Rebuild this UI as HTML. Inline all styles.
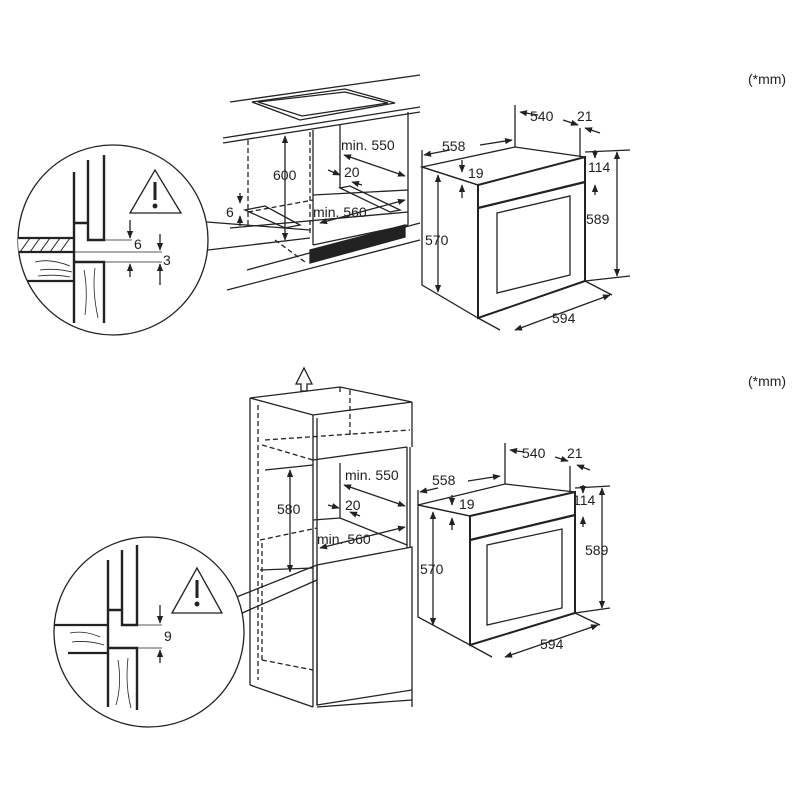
<!DOCTYPE html>
<html><head><style>
html,body{margin:0;padding:0;background:#fff}
svg{display:block}
text{font-family:"Liberation Sans",Arial,sans-serif;font-size:14px;fill:#222}
</style></head><body>
<svg width="800" height="800" viewBox="0 0 800 800" xmlns="http://www.w3.org/2000/svg">
<defs>
<marker id="a" viewBox="0 0 10 10" refX="9" refY="5" markerWidth="6" markerHeight="6" orient="auto-start-reverse"><path d="M0,1 L10,5 L0,9z" fill="#222"/></marker>
<clipPath id="c1"><circle cx="113" cy="240" r="95"/></clipPath>
<clipPath id="c2"><circle cx="149" cy="632" r="95"/></clipPath>
</defs>
<g stroke="#222" fill="none" stroke-width="1.3">
<!-- ===== TOP ===== -->
<line x1="230" y1="102" x2="420" y2="75"/>
<line x1="223" y1="138" x2="420" y2="107"/>
<line x1="223" y1="143" x2="420" y2="112"/>
<polygon points="252,102 345,89 395,103 300,120"/>
<polygon points="258,102 345,92 388,103 302,116"/>
<line x1="313" y1="130" x2="313" y2="245"/>
<line x1="408" y1="112" x2="408" y2="225"/>
<line x1="340" y1="125" x2="340" y2="188"/>
<line x1="248" y1="140" x2="248" y2="225" stroke-dasharray="5,3"/>
<line x1="310" y1="132" x2="310" y2="235" stroke-dasharray="5,3"/>
<line x1="248" y1="212" x2="313" y2="200" stroke-dasharray="5,3"/>
<polygon points="245,210 265,206 300,225 285,228"/>
<polygon points="340,188 350,186 400,210 390,212"/>
<line x1="313" y1="195" x2="408" y2="190"/>
<line x1="230" y1="228" x2="408" y2="212"/>
<line x1="313" y1="245" x2="408" y2="225"/>
<line x1="247" y1="270" x2="420" y2="223"/>
<line x1="227" y1="290" x2="420" y2="240"/>
<line x1="275" y1="240" x2="305" y2="262" stroke-dasharray="5,3"/>
<polygon points="310,250 405,225 405,237 310,263" fill="#222"/>
<line x1="285" y1="136" x2="285" y2="240" marker-start="url(#a)" marker-end="url(#a)"/>
<line x1="240" y1="193" x2="240" y2="203" marker-end="url(#a)"/>
<line x1="240" y1="226" x2="240" y2="216" marker-end="url(#a)"/>
<line x1="344" y1="155" x2="405" y2="176" marker-start="url(#a)" marker-end="url(#a)"/>
<line x1="328" y1="170" x2="340" y2="175" marker-end="url(#a)"/>
<line x1="352" y1="182" x2="362" y2="185" marker-start="url(#a)"/>
<line x1="320" y1="223" x2="405" y2="200" marker-start="url(#a)" marker-end="url(#a)"/>
<!-- circle top -->
<circle cx="113" cy="240" r="95" fill="#fff"/>
<g clip-path="url(#c1)">
<rect x="15" y="238" width="59" height="14" fill="#fff"/>
<path d="M20,252 L30,238 M30,252 L40,238 M40,252 L50,238 M50,252 L60,238 M60,252 L70,238" stroke-width="1"/>
<path d="M15,238 L74,238 M15,252 L74,252 M15,281 L74,281" stroke-width="2.2"/>
<path d="M35,262 Q50,258 70,266 M40,270 Q55,268 72,272 M38,276 Q55,274 70,277" stroke-width="0.8"/>
<path d="M84,270 Q88,290 85,315 M95,268 Q92,290 98,318" stroke-width="0.8"/>
</g>
<path d="M74,172 L74,323 M74,223 L88,223 M88,160 L88,240 L104,240 L104,155 M74,262 L104,262 L104,323" stroke-width="2.4"/>
<polygon points="130,213 155,170 181,213" fill="#fff"/>
<line x1="155" y1="182" x2="155" y2="200" stroke-width="3"/>
<circle cx="155" cy="206" r="1.8" fill="#222"/>
<line x1="104" y1="240" x2="132" y2="240" stroke-width="0.8"/>
<line x1="74" y1="252" x2="162" y2="252" stroke-width="0.8"/>
<line x1="104" y1="262" x2="162" y2="262" stroke-width="0.8"/>
<line x1="130" y1="220" x2="130" y2="238" marker-end="url(#a)"/>
<line x1="130" y1="277" x2="130" y2="264" marker-end="url(#a)"/>
<line x1="160" y1="234" x2="160" y2="250" marker-end="url(#a)"/>
<line x1="160" y1="285" x2="160" y2="264" marker-end="url(#a)"/>
<line x1="207" y1="222" x2="310" y2="230"/>
<line x1="208" y1="250" x2="310" y2="238"/>
<!-- oven top -->
<polygon points="422,167 515,147 585,157 478,185"/>
<polygon points="422,167 478,185 478,318 422,285"/>
<polygon points="478,185 585,157 585,281 478,318" stroke-width="2"/>
<line x1="478" y1="208" x2="585" y2="182" stroke-width="2.2"/>
<polygon points="497,213 570,196 570,275 497,293"/>
<line x1="515" y1="147" x2="515" y2="105"/>
<line x1="580" y1="157" x2="580" y2="128"/>
<line x1="422" y1="167" x2="422" y2="150"/>
<line x1="520" y1="112" x2="538" y2="115" marker-start="url(#a)"/>
<line x1="563" y1="120" x2="578" y2="125" marker-end="url(#a)"/>
<line x1="585" y1="128" x2="600" y2="133" marker-start="url(#a)"/>
<line x1="424" y1="155" x2="450" y2="150" marker-start="url(#a)"/>
<line x1="480" y1="145" x2="512" y2="140" marker-end="url(#a)"/>
<line x1="462" y1="160" x2="462" y2="172" marker-end="url(#a)"/>
<line x1="462" y1="198" x2="462" y2="185" marker-end="url(#a)"/>
<line x1="595" y1="150" x2="595" y2="158" marker-end="url(#a)"/>
<line x1="595" y1="195" x2="595" y2="185" marker-end="url(#a)"/>
<line x1="585" y1="152" x2="630" y2="150"/>
<line x1="585" y1="281" x2="630" y2="276"/>
<line x1="617" y1="152" x2="617" y2="276" marker-start="url(#a)" marker-end="url(#a)"/>
<line x1="438" y1="175" x2="438" y2="292" marker-start="url(#a)" marker-end="url(#a)"/>
<line x1="478" y1="318" x2="500" y2="330"/>
<line x1="585" y1="281" x2="612" y2="295"/>
<line x1="515" y1="330" x2="610" y2="295" marker-start="url(#a)" marker-end="url(#a)"/>
<!-- ===== BOTTOM ===== -->
<polygon points="296,384 304,368 312,384 307,384 307,391 301,391 301,384"/>
<polygon points="250,398 340,387 412,402 313,415"/>
<line x1="340" y1="387" x2="340" y2="392"/>
<line x1="250" y1="398" x2="250" y2="685"/>
<line x1="250" y1="685" x2="313" y2="707"/>
<line x1="313" y1="415" x2="313" y2="707"/>
<line x1="317" y1="418" x2="317" y2="705"/>
<line x1="412" y1="402" x2="412" y2="447"/>
<line x1="313" y1="460" x2="407" y2="447"/>
<line x1="407" y1="447" x2="407" y2="548"/>
<line x1="410" y1="447" x2="410" y2="548"/>
<line x1="340" y1="463" x2="340" y2="518"/>
<line x1="258" y1="405" x2="258" y2="680" stroke-dasharray="5,3"/>
<line x1="262" y1="445" x2="313" y2="460" stroke-dasharray="5,3"/>
<line x1="265" y1="440" x2="410" y2="430" stroke-dasharray="5,3"/>
<line x1="350" y1="390" x2="350" y2="435" stroke-dasharray="5,3"/>
<line x1="260" y1="540" x2="317" y2="528" stroke-dasharray="5,3"/>
<line x1="262" y1="543" x2="262" y2="660" stroke-dasharray="5,3"/>
<line x1="262" y1="660" x2="313" y2="670" stroke-dasharray="5,3"/>
<line x1="313" y1="520" x2="340" y2="518"/>
<line x1="340" y1="518" x2="407" y2="545"/>
<line x1="265" y1="470" x2="313" y2="465"/>
<line x1="260" y1="570" x2="313" y2="568"/>
<polygon points="317,565 412,547 412,690 317,705"/>
<line x1="412" y1="690" x2="412" y2="707"/>
<line x1="317" y1="707" x2="412" y2="700"/>
<line x1="290" y1="470" x2="290" y2="572" marker-start="url(#a)" marker-end="url(#a)"/>
<line x1="344" y1="485" x2="405" y2="506" marker-start="url(#a)" marker-end="url(#a)"/>
<line x1="328" y1="505" x2="339" y2="508" marker-end="url(#a)"/>
<line x1="350" y1="512" x2="360" y2="516" marker-start="url(#a)"/>
<line x1="320" y1="548" x2="405" y2="527" marker-start="url(#a)" marker-end="url(#a)"/>
<!-- circle bottom -->
<line x1="234" y1="598" x2="317" y2="565"/>
<line x1="240" y1="614" x2="317" y2="580"/>
<circle cx="149" cy="632" r="95" fill="#fff"/>
<g clip-path="url(#c2)">
<path d="M50,625 L108,625 M68,653 L108,653" stroke-width="2.2"/>
<path d="M70,633 Q85,630 100,637 M72,642 Q88,640 104,645" stroke-width="0.8"/>
<path d="M118,660 Q122,685 116,705 M128,658 Q125,685 131,708" stroke-width="0.8"/>
</g>
<path d="M108,560 L108,707 M108,610 L122,610 M122,550 L122,625 L137,625 L137,545 M108,648 L137,648 L137,710" stroke-width="2.4"/>
<polygon points="172,613 197,568 222,613" fill="#fff"/>
<line x1="197" y1="580" x2="197" y2="598" stroke-width="3"/>
<circle cx="197" cy="604" r="1.8" fill="#222"/>
<line x1="137" y1="625" x2="162" y2="625" stroke-width="0.8"/>
<line x1="137" y1="648" x2="162" y2="648" stroke-width="0.8"/>
<line x1="160" y1="605" x2="160" y2="623" marker-end="url(#a)"/>
<line x1="160" y1="663" x2="160" y2="650" marker-end="url(#a)"/>
<!-- oven bottom -->
<polygon points="418,505 505,484 575,492 470,516"/>
<polygon points="418,505 470,516 470,645 418,617"/>
<polygon points="470,516 575,492 575,613 470,645" stroke-width="2"/>
<line x1="470" y1="540" x2="575" y2="515" stroke-width="2.2"/>
<polygon points="487,545 562,529 562,608 487,625"/>
<line x1="505" y1="484" x2="505" y2="443"/>
<line x1="570" y1="492" x2="570" y2="466"/>
<line x1="418" y1="505" x2="418" y2="490"/>
<line x1="510" y1="450" x2="524" y2="452" marker-start="url(#a)"/>
<line x1="555" y1="457" x2="568" y2="461" marker-end="url(#a)"/>
<line x1="577" y1="465" x2="590" y2="470" marker-start="url(#a)"/>
<line x1="420" y1="492" x2="438" y2="488" marker-start="url(#a)"/>
<line x1="468" y1="481" x2="500" y2="476" marker-end="url(#a)"/>
<line x1="452" y1="495" x2="452" y2="505" marker-end="url(#a)"/>
<line x1="452" y1="530" x2="452" y2="518" marker-end="url(#a)"/>
<line x1="583" y1="485" x2="583" y2="493" marker-end="url(#a)"/>
<line x1="583" y1="527" x2="583" y2="517" marker-end="url(#a)"/>
<line x1="575" y1="488" x2="610" y2="486"/>
<line x1="575" y1="613" x2="610" y2="608"/>
<line x1="602" y1="488" x2="602" y2="608" marker-start="url(#a)" marker-end="url(#a)"/>
<line x1="433" y1="512" x2="433" y2="625" marker-start="url(#a)" marker-end="url(#a)"/>
<line x1="470" y1="645" x2="492" y2="657"/>
<line x1="575" y1="613" x2="600" y2="625"/>
<line x1="505" y1="657" x2="598" y2="625" marker-start="url(#a)" marker-end="url(#a)"/>
</g>
<g>
<text x="748" y="84">(*mm)</text>
<text x="530" y="121">540</text><text x="577" y="121">21</text>
<text x="442" y="151">558</text><text x="468" y="178">19</text>
<text x="588" y="172">114</text><text x="586" y="224">589</text>
<text x="425" y="245">570</text><text x="552" y="323">594</text>
<text x="273" y="180">600</text><text x="341" y="150">min. 550</text>
<text x="344" y="177">20</text><text x="313" y="217">min. 560</text>
<text x="226" y="217">6</text>
<text x="134" y="249">6</text><text x="163" y="265">3</text>
<text x="748" y="386">(*mm)</text>
<text x="522" y="458">540</text><text x="567" y="458">21</text>
<text x="432" y="485">558</text><text x="459" y="509">19</text>
<text x="573" y="505">114</text><text x="585" y="555">589</text>
<text x="420" y="574">570</text><text x="540" y="649">594</text>
<text x="277" y="514">580</text><text x="345" y="480">min. 550</text>
<text x="345" y="510">20</text><text x="317" y="544">min. 560</text>
<text x="164" y="641">9</text>
</g>
</svg>
</body></html>
